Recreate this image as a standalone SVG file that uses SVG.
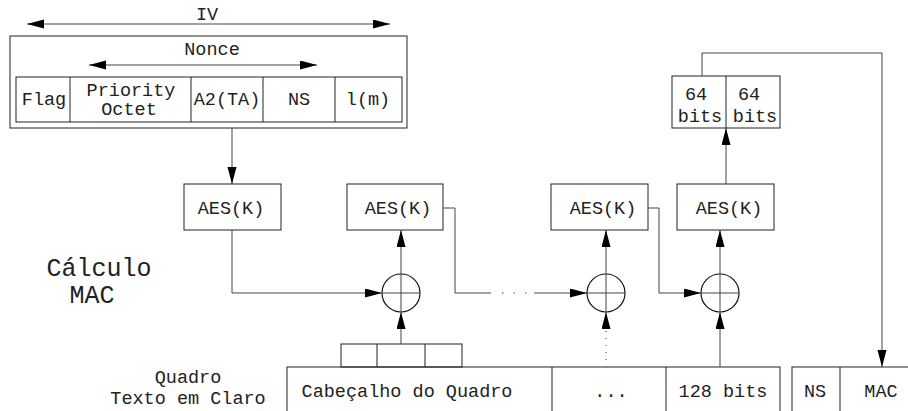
<svg xmlns="http://www.w3.org/2000/svg" width="908" height="411" viewBox="0 0 908 411">
<style>
  text { font-family: "Liberation Mono", "DejaVu Sans Mono", monospace; font-size: 18.5px; fill: #222; text-anchor: middle; }
  .big { font-size: 25px; }
  .box { fill: none; stroke: #222; stroke-width: 1; }
  .ln { fill: none; stroke: #444; stroke-width: 1; }
  .arr { marker-end: url(#ah); }
  .xor circle { fill: none; stroke: #111; stroke-width: 1.2; }
  .xor path { stroke: #444; stroke-width: 1; }
</style>
<defs>
  <marker id="ah" markerUnits="userSpaceOnUse" markerWidth="17" markerHeight="10" refX="17" refY="4.5" orient="auto-start-reverse">
    <path d="M0,0 L17,4.5 L0,9 z" fill="#000"/>
  </marker>
</defs>

<g id="iv">
  <text x="207" y="20">IV</text>
  <rect class="box" x="10" y="36" width="397" height="92"/>
  <text x="212" y="55">Nonce</text>
</g>
<g id="nonce-fields">
  <rect class="box" x="16" y="77" width="386" height="45"/>
  <path class="box" d="M70,77V122 M191,77V122 M263,77V122 M335,77V122"/>
  <text x="44" y="105">Flag</text>
  <text x="131" y="96">Priority</text>
  <text x="129" y="115">Octet</text>
  <text x="227" y="105">A2(TA)</text>
  <text x="299" y="105">NS</text>
  <text x="368" y="105">l(m)</text>
</g>

<g id="aes1"><rect class="box" x="184" y="184" width="97" height="46"/><text x="231" y="214">AES(K)</text></g>
<g id="aes2"><rect class="box" x="347" y="184" width="96" height="46"/><text x="398" y="214">AES(K)</text></g>
<g id="aes3"><rect class="box" x="551" y="184" width="97" height="46"/><text x="603" y="214">AES(K)</text></g>
<g id="aes4"><rect class="box" x="677" y="184" width="97" height="46"/><text x="729" y="214">AES(K)</text></g>

<g id="xor1" class="xor"><circle cx="401" cy="293" r="19"/><path d="M382,293H420M401,274V312"/></g>
<g id="xor2" class="xor"><circle cx="606" cy="293" r="19"/><path d="M587,293H625M606,274V312"/></g>
<g id="xor3" class="xor"><circle cx="720" cy="293" r="19"/><path d="M701,293H739M720,274V312"/></g>

<g id="mac-halves">
  <rect class="box" x="672" y="76" width="108" height="52"/>
  <path class="box" d="M726,76V128"/>
  <text x="696" y="100">64</text>
  <text x="700" y="122">bits</text>
  <text x="749" y="100">64</text>
  <text x="755" y="122">bits</text>
</g>

<g id="labels">
  <text class="big" x="99" y="276">Cálculo</text>
  <text class="big" x="92" y="303">MAC</text>
  <text x="188" y="383">Quadro</text>
  <text x="188" y="404">Texto em Claro</text>
</g>

<g id="cells">
  <rect class="box" x="341" y="344" width="121" height="23"/>
  <path class="box" d="M377,344V367M425,344V367"/>
</g>

<g id="frame">
  <rect class="box" x="287" y="367" width="493" height="60"/>
  <path class="box" d="M552,367V427M666,367V427"/>
  <text x="407" y="397">Cabeçalho do Quadro</text>
  <text x="611" y="397">...</text>
  <text x="723" y="397">128 bits</text>
</g>

<g id="output">
  <rect class="box" x="792" y="367" width="130" height="60"/>
  <path class="box" d="M840,367V427"/>
  <text x="815" y="397">NS</text>
  <text x="881" y="397">MAC</text>
</g>

<g id="connectors">
  <path class="ln" d="M27,24H390" marker-start="url(#ah)" marker-end="url(#ah)"/>
  <path class="ln" d="M89,65H317" marker-start="url(#ah)" marker-end="url(#ah)"/>
  <path class="ln arr" d="M232,128V184"/>
  <path class="ln arr" d="M232,230V293H382"/>
  <path class="ln arr" d="M401,274V230"/>
  <path class="ln arr" d="M401,344V312"/>
  <path class="ln" d="M443,208H455V293H491"/>
  <path class="ln" d="M502,293H530" stroke-dasharray="1.5,10" stroke-width="2"/>
  <path class="ln arr" d="M534,293H587"/>
  <path class="ln" d="M606,367V328" stroke-dasharray="1,6"/>
  <path class="ln arr" d="M606,328V312"/>
  <path class="ln arr" d="M606,274V230"/>
  <path class="ln arr" d="M648,208H659V293H701"/>
  <path class="ln arr" d="M720,367V312"/>
  <path class="ln arr" d="M720,274V230"/>
  <path class="ln arr" d="M726,184V128"/>
  <path class="ln arr" d="M702,76V53H882V367"/>
</g>
</svg>
